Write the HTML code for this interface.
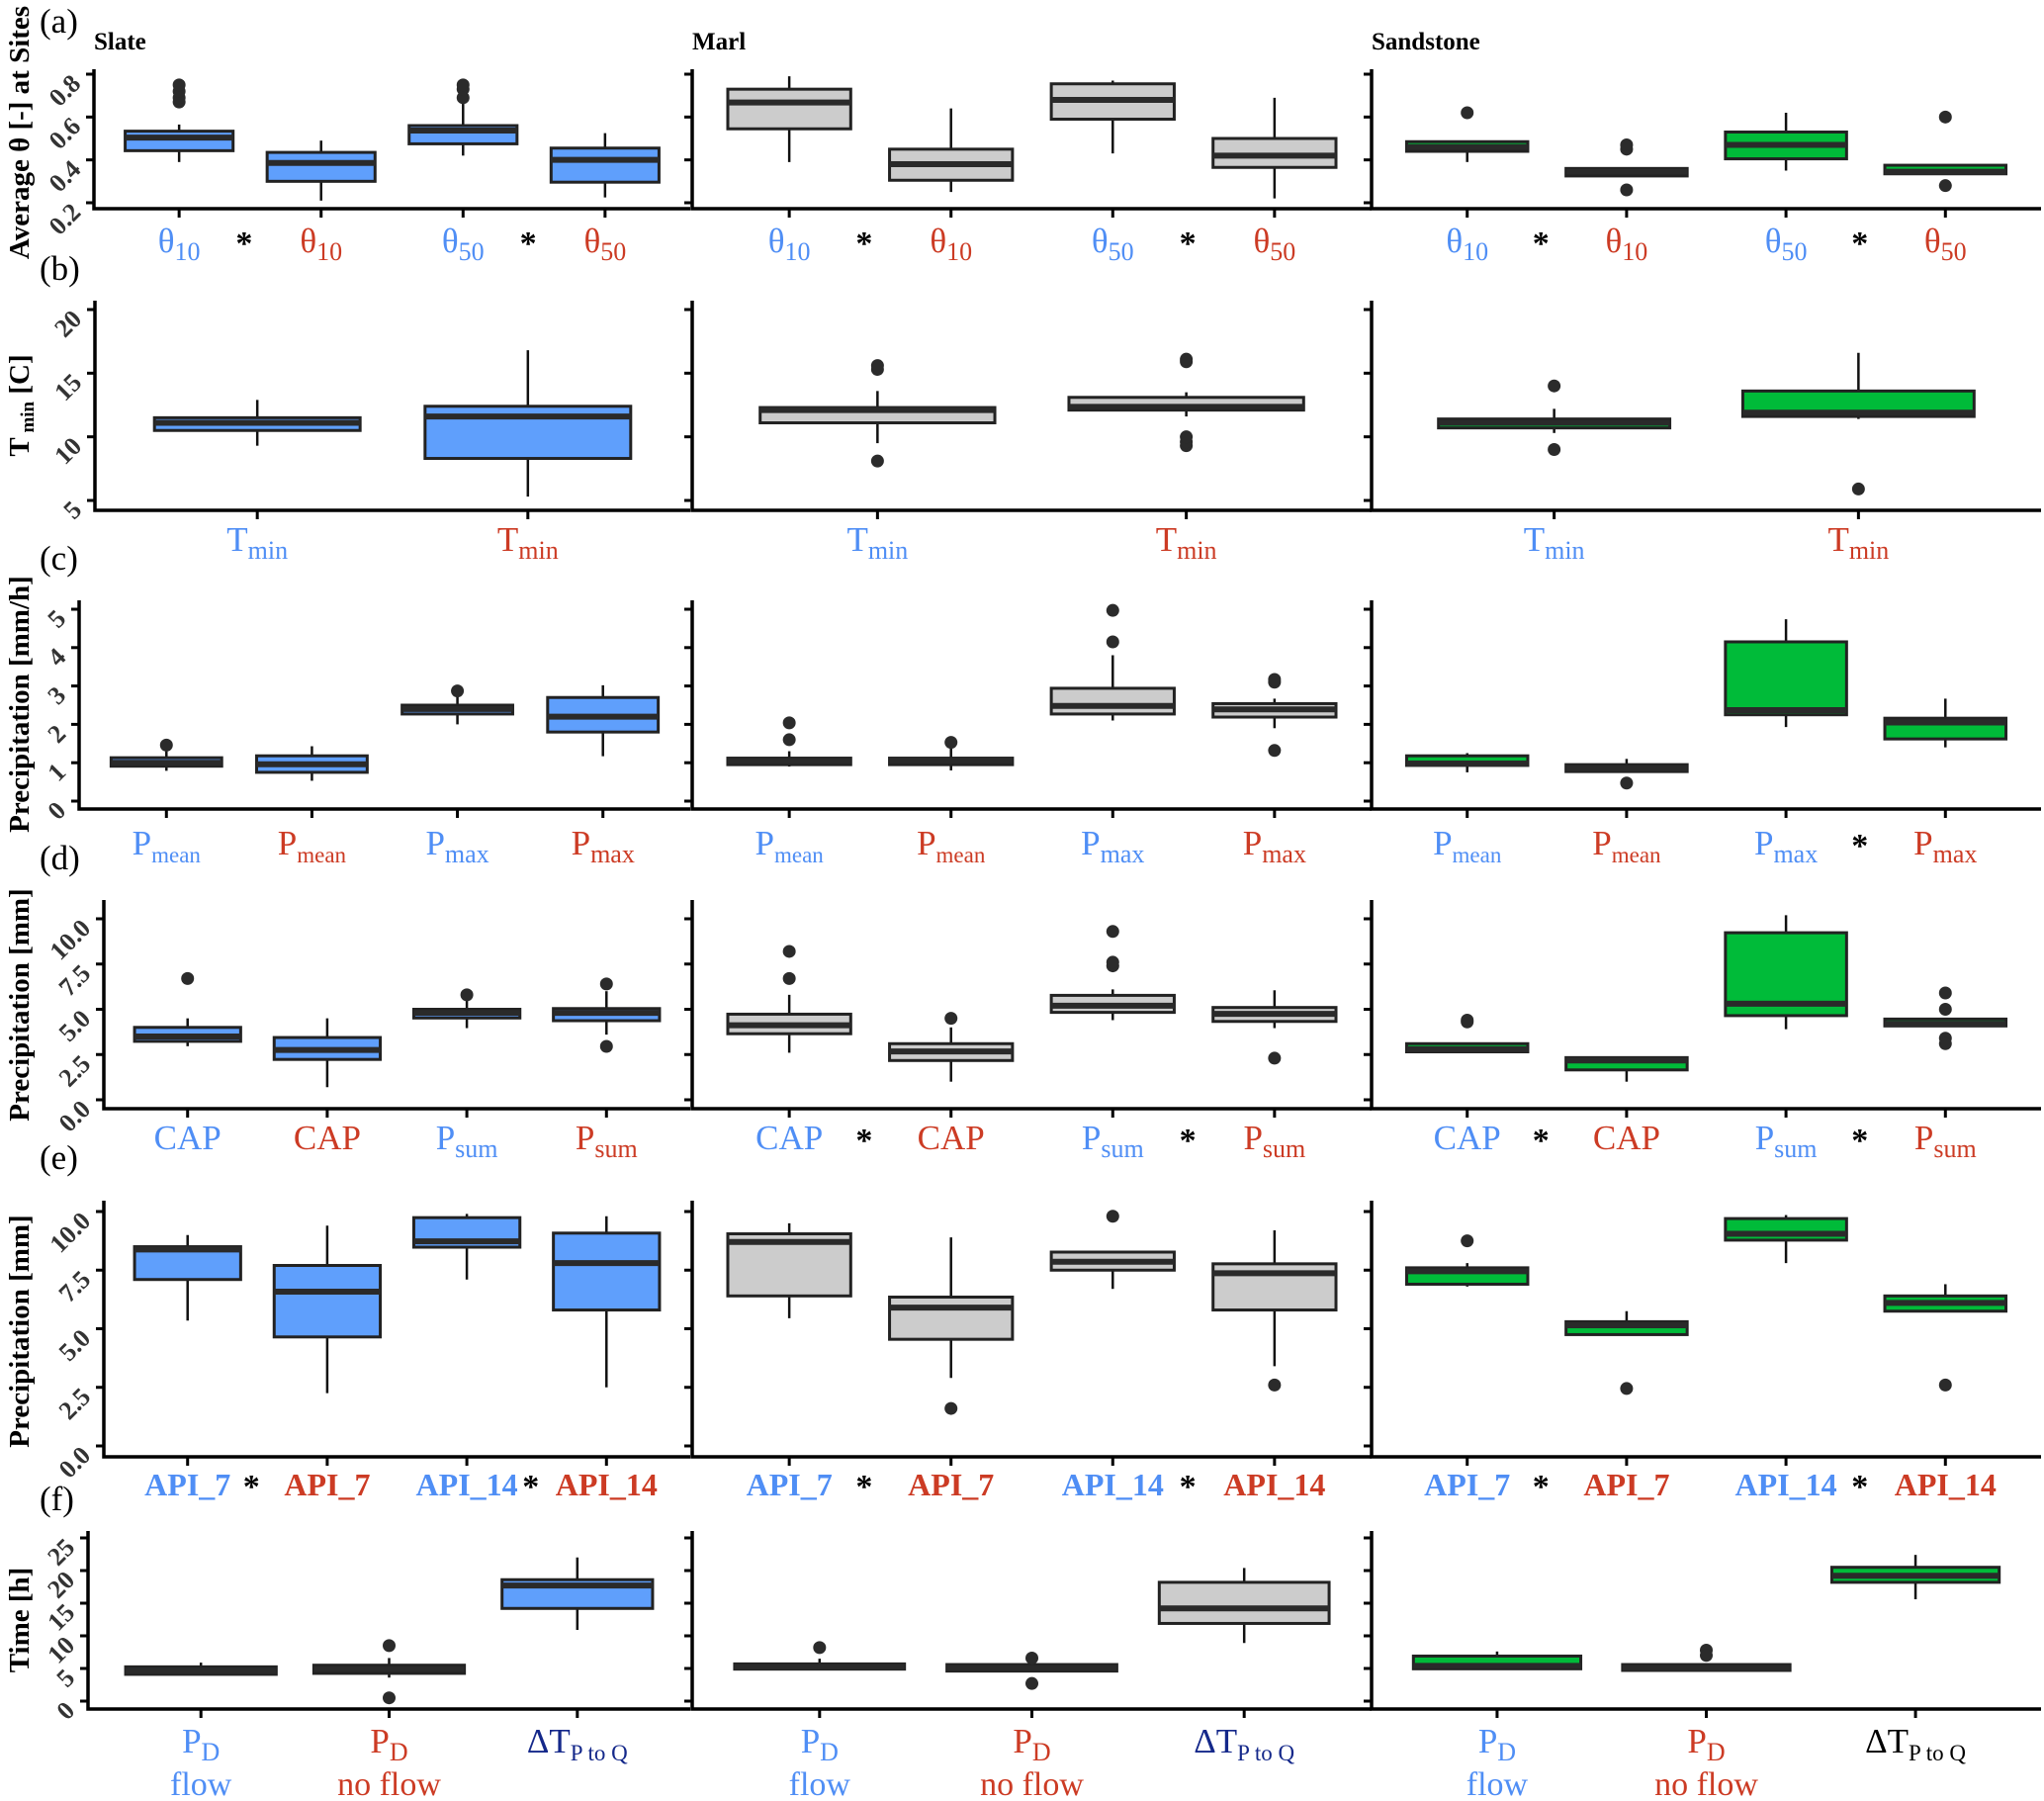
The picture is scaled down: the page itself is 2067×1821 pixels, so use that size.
<!DOCTYPE html>
<html><head><meta charset="utf-8"><style>
html,body{margin:0;padding:0;background:#fff;}
svg{display:block;font-family:"Liberation Serif",serif;}
</style></head><body>
<svg id="fig" width="2067" height="1821" viewBox="0 0 2067 1821" xmlns="http://www.w3.org/2000/svg"></svg>
<script>
// ---------- DATA (whiskerLow, q1, median, q3, whiskerHigh) ----------
const slateA=[[0.39,0.443,0.504,0.534,0.565],[0.21,0.30,0.386,0.435,0.49],[0.42,0.475,0.537,0.56,0.67],[0.225,0.296,0.40,0.455,0.525]];
const slateAOut=[[0.67,0.69,0.72,0.75],[],[0.69,0.73,0.75],[]];
const marlA=[[0.39,0.545,0.668,0.73,0.79],[0.25,0.305,0.38,0.45,0.64],[0.43,0.59,0.68,0.755,0.77],[0.22,0.365,0.42,0.5,0.69]];
const marlAOut=[[],[],[],[]];
const sandA=[[0.39,0.44,0.46,0.485,0.485],[0.325,0.325,0.345,0.36,0.36],[0.35,0.405,0.47,0.53,0.62],[0.335,0.335,0.345,0.375,0.375]];
const sandAOut=[[0.62],[0.45,0.47,0.26],[],[0.6,0.28]];

const slateB=[[9.3,10.5,11.1,11.5,12.9],[5.3,8.3,11.6,12.4,16.8]];
const slateBOut=[[],[]];
const marlB=[[9.5,11.1,12.1,12.3,13.6],[11.6,12.1,12.35,13.1,13.5]];
const marlBOut=[[15.3,15.6,8.1],[15.9,16.1,9.3,9.6,10.0]];
const sandB=[[10.3,10.7,11.1,11.4,12.2],[11.4,11.6,11.9,13.6,16.6]];
const sandBOut=[[14.0,9.0],[5.9]];

const slateC=[[0.79,0.91,1.0,1.13,1.3],[0.53,0.75,0.96,1.18,1.43],[2.0,2.27,2.4,2.5,2.75],[1.17,1.8,2.2,2.7,3.02]];
const slateCOut=[[1.46],[],[2.87],[]];
const marlC=[[0.9,0.95,1.04,1.12,1.3],[0.8,0.95,1.05,1.12,1.43],[2.1,2.27,2.48,2.94,3.8],[1.9,2.19,2.39,2.54,2.67]];
const marlCOut=[[1.6,2.04],[1.53],[4.15,4.97],[3.1,3.17,1.32]];
const sandC=[[0.75,0.93,0.98,1.18,1.25],[0.77,0.77,0.86,0.95,1.1],[1.93,2.25,2.37,4.15,4.74],[1.4,1.62,2.05,2.16,2.67]];
const sandCOut=[[],[0.47],[],[]];

const slateD=[[2.96,3.23,3.5,4.0,4.5],[0.7,2.23,2.75,3.44,4.5],[3.96,4.52,4.8,5.0,5.5],[3.6,4.37,4.8,5.04,6.0]];
const slateDOut=[[6.7],[],[5.8],[6.4,2.95]];
const marlD=[[2.6,3.65,4.12,4.73,5.8],[1.0,2.17,2.67,3.1,4.0],[4.4,4.83,5.2,5.77,6.1],[3.96,4.33,4.75,5.1,6.05]];
const marlDOut=[[6.7,8.2],[4.5],[7.4,7.6,9.3],[2.3]];
const sandD=[[2.6,2.65,2.8,3.1,3.1],[1.0,1.65,2.17,2.33,2.4],[3.9,4.65,5.31,9.23,10.2],[4.08,4.08,4.2,4.46,4.46]];
const sandDOut=[[4.3,4.4],[],[],[5.9,5.0,3.4,3.1]];

const slateE=[[5.35,7.1,8.38,8.5,9.0],[2.25,4.65,6.58,7.7,9.4],[7.1,8.48,8.73,9.74,9.9],[2.5,5.8,7.8,9.08,9.8]];
const slateEOut=[[],[],[],[]];
const marlE=[[5.45,6.4,8.7,9.05,9.5],[2.9,4.55,5.9,6.35,8.9],[6.7,7.5,7.86,8.27,8.27],[3.4,5.8,7.37,7.77,9.2]];
const marlEOut=[[],[1.6],[9.8],[2.6]];
const sandE=[[6.8,6.9,7.45,7.6,7.8],[4.75,4.75,5.15,5.3,5.75],[7.8,8.78,9.05,9.7,9.85],[5.75,5.75,6.1,6.4,6.9]];
const sandEOut=[[8.75],[2.45],[],[2.6]];

const slateF=[[4.0,4.1,4.6,5.25,5.9],[3.6,4.25,4.9,5.5,6.6],[10.9,14.2,17.7,18.6,22.0]];
const slateFOut=[[],[8.5,0.5],[]];
const marlF=[[4.8,4.9,5.25,5.7,6.5],[4.6,4.6,5.1,5.6,5.6],[8.9,11.9,14.2,18.2,20.4]];
const marlFOut=[[8.2],[6.6,2.7],[]];
const sandF=[[4.95,4.95,5.4,6.9,7.6],[4.7,4.7,5.1,5.6,5.6],[15.6,18.2,19.2,20.5,22.4]];
const sandFOut=[[],[7.8,7.0],[]];

// tick values and labels
const ticksA=[0.2,0.4,0.6,0.8]; const tickLabA=['0.2','0.4','0.6','0.8'];
const ticksB=[5,10,15,20]; const tickLabB=['5','10','15','20'];
const ticksC=[0,1,2,3,4,5]; const tickLabC=['0','1','2','3','4','5'];
const ticksD=[0,2.5,5,7.5,10]; const tickLabD=['0.0','2.5','5.0','7.5','10.0'];
const ticksE=[0,2.5,5,7.5,10]; const tickLabE=['0.0','2.5','5.0','7.5','10.0'];
const ticksF=[0,5,10,15,20,25]; const tickLabF=['0','5','10','15','20','25'];

// ---------- LAYOUT ----------
const BLUE='#4f8ef5', RED='#cc3b24', NAVY='#14288a';
const fills=['#5f9ffc','#cccccc','#00bb39'];
const colX=[[null,698],[700,1387],[1387,2064]];
const svg=document.getElementById('fig');
const NS='http://www.w3.org/2000/svg';
function mk(tag,attrs,parent){const e=document.createElementNS(NS,tag);for(const k in attrs)e.setAttribute(k,attrs[k]);(parent||svg).appendChild(e);return e;}

const rows=[
 {key:'a',top:70,bot:211,v0:0.2,p0:205,v1:0.8,p1:75,left1:95,ticks:ticksA,tl:tickLabA,data:[slateA,marlA,sandA],out:[slateAOut,marlAOut,sandAOut],labY:243,bwf:0.76,
  labels:[['θ','10',BLUE],['θ','10',RED],['θ','50',BLUE],['θ','50',RED]],stars:[[0,1],[0,1],[0,1]],panelY:21,title:'Average θ [-] at Sites',titleY:134},
 {key:'b',top:304,bot:516,v0:5,p0:506,v1:20,p1:313,left1:96,ticks:ticksB,tl:tickLabB,data:[slateB,marlB,sandB],out:[slateBOut,marlBOut,sandBOut],labY:545,bwf:0.76,
  labels:[['T','min',BLUE],['T','min',RED]],stars:[[],[],[]],panelY:271,title:'Tmin',titleY:410},
 {key:'c',top:607,bot:818,v0:0,p0:810,v1:5,p1:616,left1:80,ticks:ticksC,tl:tickLabC,data:[slateC,marlC,sandC],out:[slateCOut,marlCOut,sandCOut],labY:852,bwf:0.76,
  labels:[['P','mean',BLUE],['P','mean',RED],['P','max',BLUE],['P','max',RED]],stars:[[],[],[1]],panelY:564,title:'Precipitation [mm/h]',titleY:712},
 {key:'d',top:910,bot:1121,v0:0,p0:1112,v1:10,p1:929,left1:105,ticks:ticksD,tl:tickLabD,data:[slateD,marlD,sandD],out:[slateDOut,marlDOut,sandDOut],labY:1150,bwf:0.76,
  labels:[['CAP','',BLUE],['CAP','',RED],['P','sum',BLUE],['P','sum',RED]],stars:[[],[0,1],[0,1]],panelY:867,title:'Precipitation [mm]',titleY:1016},
 {key:'e',top:1214,bot:1473,v0:0,p0:1462,v1:10,p1:1225,left1:105,ticks:ticksE,tl:tickLabE,data:[slateE,marlE,sandE],out:[slateEOut,marlEOut,sandEOut],labY:1500,bold:true,bwf:0.76,
  labels:[['API_7','',BLUE],['API_7','',RED],['API_14','',BLUE],['API_14','',RED]],stars:[[0,1],[0,1],[0,1]],panelY:1170,title:'Precipitation [mm]',titleY:1346},
 {key:'f',top:1548,bot:1728,v0:0,p0:1720,v1:25,p1:1555,left1:89,ticks:ticksF,tl:tickLabF,data:[slateF,marlF,sandF],out:[slateFOut,marlFOut,sandFOut],labY:1760,bwf:0.8,
  labels:[['P','D',BLUE,'flow'],['P','D',RED,'no flow'],['ΔT','P to Q',NAVY]],stars:[[],[],[]],panelY:1515,title:'Time [h]',titleY:1638}
];
const colNames=['slate','marl','sandstone'];

// headers
[['Slate',95],['Marl',700],['Sandstone',1387]].forEach(([t,x])=>{
  const e=mk('text',{x:x,y:50,'font-size':25,'font-weight':'bold',fill:'#000'});e.textContent=t;
  
  
});

rows.forEach(r=>{
  const yS=v=>r.p0+(v-r.v0)*(r.p1-r.p0)/(r.v1-r.v0);
  const pl=mk('text',{x:40,y:r.panelY+12,'font-size':35,fill:'#000'});pl.textContent='('+r.key+')';
  
  
  const yt=mk('text',{x:0,y:0,'font-size':29,'font-weight':'bold','text-anchor':'middle',transform:`translate(29,${r.titleY}) rotate(-90)`,fill:'#000'});
  if(r.title==='Tmin'){const a=mk('tspan',{},yt);a.textContent='T';const b=mk('tspan',{'font-size':19,dy:5},yt);b.textContent=' min';const c=mk('tspan',{dy:-5},yt);c.textContent=' [C]';}
  else yt.textContent=r.title;
  
  

  for(let c=0;c<3;c++){
    const g=mk('g',{});
    
    
    const L=c===0?r.left1:colX[c][0], R=colX[c][1];
    const n=r.labels.length, unit=(R-L)/(n+0.2), bw=unit*r.bwf;
    const xS=i=>L+unit*(0.6+i);
    const ax=mk('path',{d:`M${L},${r.top} V${r.bot} H${R}`,stroke:'#000','stroke-width':3.5,fill:'none'},g);
    
    
    r.ticks.forEach((t,k)=>{
      const y=yS(t);
      mk('line',{x1:L-8,x2:L,y1:y,y2:y,stroke:'#000','stroke-width':3},g);
      if(c===0){
        const tl=mk('text',{x:0,y:0,'font-size':26,'font-weight':'bold','text-anchor':'end',fill:'#333',transform:`translate(${L-12},${y+11}) rotate(-45)`},g);
        tl.textContent=r.tl[k];
        
        
      }
    });
    r.data[c].forEach((s,i)=>{
      const x=xS(i);
      mk('line',{x1:x,x2:x,y1:r.bot,y2:r.bot+9,stroke:'#000','stroke-width':3},g);
      const bg=mk('g',{},g);
      
      
      mk('line',{x1:x,x2:x,y1:yS(s[0]),y2:yS(s[4]),stroke:'#111','stroke-width':2.5},bg);
      const top=yS(s[3]),bot=yS(s[1]);
      mk('rect',{x:x-bw/2,y:top,width:bw,height:Math.max(bot-top,2),fill:fills[c],stroke:'#222','stroke-width':3},bg);
      mk('line',{x1:x-bw/2,x2:x+bw/2,y1:yS(s[2]),y2:yS(s[2]),stroke:'#2a2a2a','stroke-width':6},bg);
      r.out[c][i].forEach(o=>{
        const d=mk('circle',{cx:x,cy:yS(o),r:6.5,fill:'#2b2b2b'},bg);
        
        
      });
      const lb=r.labels[i];
      const col=(r.key==='f'&&i===2&&c===2)?'#000':lb[2];
      const t=mk('text',{x:x,y:r.labY+12,'font-size':r.bold?32:35,'font-weight':r.bold?'bold':'normal','text-anchor':'middle',fill:col},g);
      const a=mk('tspan',{},t);a.textContent=lb[0];
      if(lb[1]){const b=mk('tspan',{'font-size':lb[1].length>3?23:26,dy:8},t);b.textContent=lb[1];}
      
      
      if(lb[3]){const t2=mk('text',{x:x,y:r.labY+55,'font-size':34,'text-anchor':'middle',fill:lb[2]},g);t2.textContent=lb[3];
        
        }
    });
    r.stars[c].forEach(p=>{
      const i=p*2;const sx=(xS(i)+xS(i+1))/2-6;
      const st=mk('text',{x:sx,y:r.labY+14,'font-size':34,'font-weight':'bold','text-anchor':'middle',fill:'#000'},g);
      st.textContent='*';
      
      
    });
  }
});
</script>
</body></html>
